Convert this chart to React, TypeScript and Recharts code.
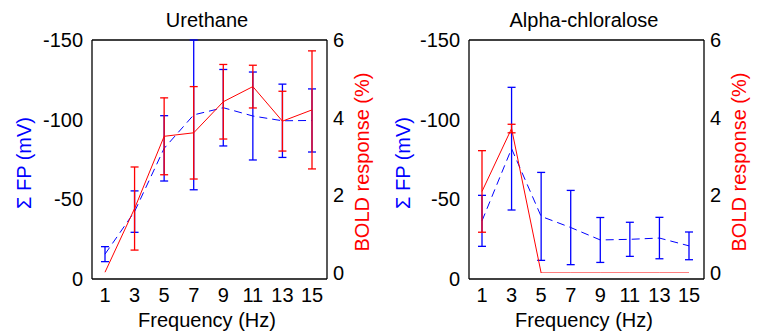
import React from 'react';
import { ComposedChart, Line, XAxis, YAxis, ErrorBar, Label, ReferenceLine } from 'recharts';

// Stimulation frequencies (Hz)
const FREQS = [1, 3, 5, 7, 9, 11, 13, 15];
const FP_TICKS = [-150, -100, -50, 0];
const BOLD_TICKS = [0, 2, 4, 6];

// Urethane: summed field potential (mV) and BOLD response (%)
const URE_FP = [-15.6, -42.3, -82, -103, -107.5, -102.3, -99.3, -99.5];
const URE_FP_ERR = [4.7, 13, 20.5, 47, 24, 27.6, 23, 19.8];
const URE_BOLD = [0.02, 1.66, 3.52, 3.61, 4.41, 4.8, 3.91, 4.2];
const URE_BOLD_ERR = [null, 1.07, 0.99, 1.19, 0.96, 0.55, 0.77, 1.52];

// Alpha-chloralose
const ACH_FP = [-36.5, -81.8, -39.3, -32.3, -24.5, -24.9, -25.7, -20.8];
const ACH_FP_ERR = [16, 38.5, 27.6, 23.3, 14.1, 10.7, 13, 8.7];
const ACH_BOLD = [2.1, 3.72, 0, 0, 0, 0, 0, 0];
const ACH_BOLD_ERR = [1.05, 0.11, null, null, null, null, null, null];

const FONT = '"Liberation Sans", Arial, Helvetica, sans-serif';
const BLUE = '#0000ff';
const RED = '#ff0000';
const AXIS_LINE = { stroke: '#000', strokeWidth: 1.3 };
const TICK = { fill: '#000', fontSize: 20, fontFamily: FONT };

const buildRows = (fp: number[], fpErr: any[], bold: number[], boldErr: any[]) =>
  FREQS.map((f, i) => ({ freq: f, fp: fp[i], fpErr: fpErr[i], bold: bold[i], boldErr: boldErr[i] }));

const URE_ROWS = buildRows(URE_FP, URE_FP_ERR, URE_BOLD, URE_BOLD_ERR);
const ACH_ROWS = buildRows(ACH_FP, ACH_FP_ERR, ACH_BOLD, ACH_BOLD_ERR);

const textLabel = (value: string, x: number, y: number, color = '#000', rotate = false) => () => (
  <text
    x={x}
    y={y}
    fill={color}
    fontSize={20}
    fontFamily={FONT}
    textAnchor="middle"
    transform={rotate ? `rotate(-90, ${x}, ${y})` : undefined}
  >
    {value}
  </text>
);

interface PanelProps {
  title: string;
  rows: any[];
  width: number;
  leftLabelX: number;
}

const Panel: React.FC<PanelProps> = ({ title, rows, width, leftLabelX }) => (
  <ComposedChart
    width={width}
    height={333}
    data={rows}
    margin={{ top: 40, right: width - 327 - 40, bottom: 24, left: 32 }}
  >
    <XAxis
      xAxisId="bottom"
      dataKey="freq"
      type="number"
      domain={[1, 15]}
      ticks={FREQS}
      padding={{ left: 13, right: 15 }}
      height={30}
      tickSize={0}
      tickMargin={9}
      tickLine={false}
      axisLine={AXIS_LINE}
      tick={TICK}
      interval={0}
    >
      <Label content={textLabel('Frequency (Hz)', 207, 327)} />
    </XAxis>
    <YAxis
      yAxisId="fp"
      type="number"
      domain={[-150, 0]}
      reversed
      ticks={FP_TICKS}
      width={60}
      tickSize={0}
      tickMargin={9}
      tickLine={false}
      axisLine={AXIS_LINE}
      tick={TICK}
      interval={0}
      allowDataOverflow
    >
      <Label content={textLabel('Σ FP (mV)', leftLabelX, 163, BLUE, true)} />
    </YAxis>
    <YAxis
      yAxisId="bold"
      orientation="right"
      type="number"
      domain={[0, 6]}
      ticks={BOLD_TICKS}
      padding={{ top: 0, bottom: 6 }}
      width={40}
      tickSize={0}
      tickMargin={6}
      tickLine={false}
      axisLine={AXIS_LINE}
      tick={TICK}
      interval={0}
      allowDataOverflow
    >
      <Label content={textLabel('BOLD response (%)', 369, 162, RED, true)} />
    </YAxis>
    {/* top edge of the axes box */}
    <ReferenceLine xAxisId="bottom" yAxisId="fp" y={-150} stroke="#000" strokeWidth={1.3}>
      <Label content={textLabel(title, 207, 27)} />
    </ReferenceLine>
    <Line
      xAxisId="bottom"
      yAxisId="fp"
      dataKey="fp"
      stroke={BLUE}
      strokeWidth={1}
      strokeDasharray="8 5"
      dot={false}
      activeDot={false}
      isAnimationActive={false}
    >
      <ErrorBar dataKey="fpErr" direction="y" width={4} stroke={BLUE} strokeWidth={1.3} isAnimationActive={false} />
    </Line>
    <Line
      xAxisId="bottom"
      yAxisId="bold"
      dataKey="bold"
      stroke={RED}
      strokeWidth={1}
      dot={false}
      activeDot={false}
      isAnimationActive={false}
    >
      <ErrorBar dataKey="boldErr" direction="y" width={4} stroke={RED} strokeWidth={1.3} isAnimationActive={false} />
    </Line>
  </ComposedChart>
);

export default function App() {
  return (
    <div style={{ position: 'absolute', left: 0, top: 0, width: 757, height: 333, background: '#fff', display: 'flex' }}>
      <Panel title="Urethane" rows={URE_ROWS} width={377} leftLabelX={31} />
      <Panel title="Alpha-chloralose" rows={ACH_ROWS} width={380} leftLabelX={33} />
    </div>
  );
}
